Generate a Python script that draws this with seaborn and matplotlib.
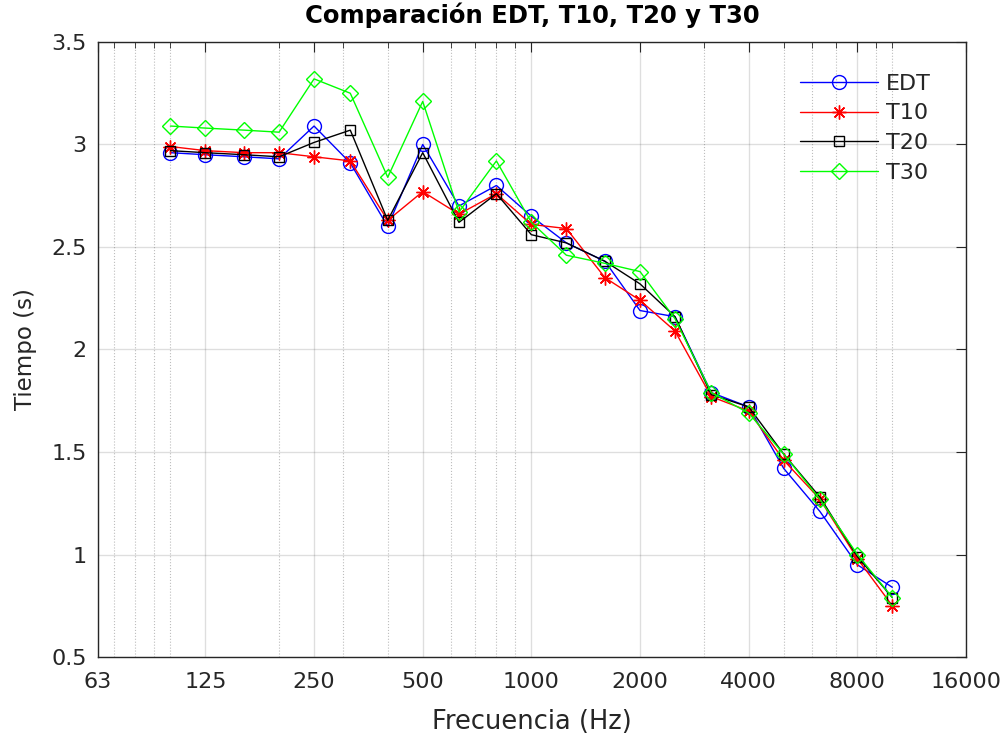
import numpy as np
import pandas as pd
import matplotlib
matplotlib.use("Agg")
import matplotlib.pyplot as plt
import matplotlib.ticker as mticker
import seaborn as sns

# --- datos ---
frecuencias = [100, 125, 160, 200, 250, 315, 400, 500, 630, 800, 1000,
               1250, 1600, 2000, 2500, 3150, 4000, 5000, 6300, 8000, 10000]
edt = [2.96, 2.95, 2.94, 2.93, 3.09, 2.91, 2.60, 3.00, 2.70, 2.80, 2.65,
       2.52, 2.43, 2.19, 2.16, 1.79, 1.72, 1.42, 1.21, 0.95, 0.84]
t10 = [2.99, 2.97, 2.96, 2.96, 2.94, 2.92, 2.63, 2.77, 2.66, 2.76, 2.61,
       2.59, 2.35, 2.24, 2.09, 1.77, 1.70, 1.46, 1.27, 0.98, 0.75]
t20 = [2.97, 2.96, 2.95, 2.94, 3.01, 3.07, 2.63, 2.96, 2.62, 2.76, 2.56,
       2.52, 2.43, 2.32, 2.16, 1.78, 1.72, 1.49, 1.28, 0.99, 0.79]
t30 = [3.09, 3.08, 3.07, 3.06, 3.32, 3.25, 2.84, 3.21, 2.67, 2.92, 2.62,
       2.46, 2.42, 2.38, 2.15, 1.79, 1.69, 1.49, 1.27, 1.00, 0.79]

series = {"EDT": edt, "T10": t10, "T20": t20, "T30": t30}
colores = {"EDT": "#0000ff", "T10": "#ff0000", "T20": "#000000", "T30": "#00ff00"}
marcadores = {"EDT": "o", "T10": (8, 2, 0), "T20": "s", "T30": "D"}
tam_marcador = {"EDT": 10, "T10": 10, "T20": 7, "T30": 8.5}

x_ticks = [63, 125, 250, 500, 1000, 2000, 4000, 8000, 16000]

sns.set_theme(style="white")
plt.rcParams["font.family"] = ["DejaVu Sans"]

fig = plt.figure(figsize=(10.07, 7.34), dpi=100)
ax = fig.add_axes([0.0973, 0.1049, 0.8620, 0.8379])

for nombre, valores in series.items():
    sns.lineplot(x=frecuencias, y=valores, ax=ax, color=colores[nombre],
                 marker=marcadores[nombre], markersize=tam_marcador[nombre],
                 markerfacecolor="none", markeredgecolor=colores[nombre],
                 markeredgewidth=1.0, linewidth=1.0, label=nombre)

ax.set_xscale("log")
ax.set_xlim(63, 16000)
ax.set_ylim(0.5, 3.5)
ax.xaxis.set_major_locator(mticker.FixedLocator(x_ticks))
ax.xaxis.set_major_formatter(mticker.FixedFormatter([str(t) for t in x_ticks]))
ax.xaxis.set_minor_locator(mticker.LogLocator(base=10, subs=np.arange(1, 10), numticks=20))
ax.xaxis.set_minor_formatter(mticker.NullFormatter())
ax.set_yticks(np.arange(0.5, 3.51, 0.5))
ax.set_yticklabels(["0.5", "1", "1.5", "2", "2.5", "3", "3.5"])

# rejilla estilo MATLAB
ax.grid(which="major", color=(0.15, 0.15, 0.15), alpha=0.15, linewidth=1.0, linestyle="-")
ax.grid(which="minor", axis="x", color=(0.15, 0.15, 0.15), alpha=0.3, linewidth=0.8, linestyle=":")
ax.set_axisbelow(True)

gris = (0.15, 0.15, 0.15)
for sp in ax.spines.values():
    sp.set_color(gris)
    sp.set_linewidth(1.0)
    sp.set_visible(True)
ax.tick_params(which="both", direction="in", top=True, right=True, colors=gris,
               labelcolor=gris, labelsize=16)
ax.tick_params(which="major", length=7, width=0.8)
ax.tick_params(axis="x", which="major", pad=11)
ax.tick_params(axis="y", which="major", pad=8)
ax.tick_params(which="minor", length=4, width=0.6)

ax.set_title("Comparación EDT, T10, T20 y T30", fontsize=17.5, fontweight="bold",
             color="black", pad=14)
ax.set_xlabel("Frecuencia (Hz)", fontsize=18.5, color=gris, labelpad=12)
ax.set_ylabel("Tiempo (s)", fontsize=16.5, color=gris, labelpad=10)

leg = ax.legend(loc="upper left", bbox_to_anchor=(0.8088, 0.9485), frameon=False,
                fontsize=16, handlelength=3.5, handletextpad=0.35, labelspacing=0.44,
                borderpad=0, borderaxespad=0)
for t in leg.get_texts():
    t.set_color(gris)

fig.savefig("out.png", dpi=100, facecolor="white")
